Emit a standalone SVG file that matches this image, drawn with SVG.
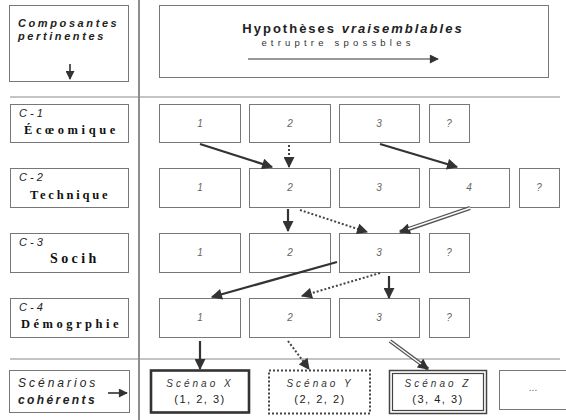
<svg xmlns="http://www.w3.org/2000/svg" width="566" height="420" viewBox="0 0 566 420">
<style>
.box{fill:#fff;stroke:#777;stroke-width:1}
.sep{stroke:#444;stroke-width:1.2}
.hsep{stroke:#888;stroke-width:1}
.num{font-family:"Liberation Sans",Arial,sans-serif;font-size:10px;font-style:italic;fill:#666;text-anchor:middle}
.cid{font-family:"Liberation Sans",Arial,sans-serif;font-size:11px;font-style:italic;fill:#222}
.cname{font-family:"Liberation Serif","Times New Roman",serif;font-size:12.5px;font-weight:bold;fill:#111;letter-spacing:2px}
.hdr{font-family:"Liberation Sans",Arial,sans-serif;font-size:11px;font-weight:bold;font-style:italic;fill:#222;letter-spacing:2.6px}
.sc{font-family:"Liberation Sans",Arial,sans-serif;font-size:10px;font-style:italic;fill:#333;text-anchor:middle;letter-spacing:3px}
.tup{font-family:"Liberation Sans",Arial,sans-serif;font-size:11px;fill:#222;text-anchor:middle;letter-spacing:1.5px}
.solid{stroke:#333;stroke-width:2.2;fill:none}
.dot{stroke:#444;stroke-width:2;stroke-dasharray:2,2;fill:none}
.dbl{stroke:#555;stroke-width:4;fill:none}
.dblin{stroke:#fff;stroke-width:1.4;fill:none}
</style>
<defs>
<marker id="ah" viewBox="0 0 10 10" refX="9" refY="5" markerUnits="userSpaceOnUse" markerWidth="12" markerHeight="11" orient="auto">
<path d="M0,0 L10,5 L0,10 z" fill="#333"/>
</marker>
<marker id="ahs" viewBox="0 0 10 10" refX="9" refY="5" markerUnits="userSpaceOnUse" markerWidth="10" markerHeight="9" orient="auto">
<path d="M0,0 L10,5 L0,10 z" fill="#333"/>
</marker>
</defs>

<g id="frame">
<line class="sep" x1="139" y1="0" x2="139" y2="420"/>
<line class="hsep" x1="10" y1="97" x2="560" y2="97"/>
<line class="hsep" x1="10" y1="359" x2="560" y2="359"/>
</g>

<g id="composantes">
<rect class="box" x="9.5" y="5.5" width="119" height="76"/>
<text class="hdr" x="18" y="27">Composantes</text>
<text class="hdr" x="18" y="40">pertinentes</text>
<line x1="70" y1="64" x2="70" y2="79" stroke="#222" stroke-width="1.5" marker-end="url(#ahs)"/>
</g>

<g id="hypotheses">
<rect class="box" x="159.5" y="5.5" width="389" height="72"/>
<text x="353" y="33" font-family="Liberation Sans, Arial, sans-serif" font-size="13px" font-weight="bold" fill="#222" text-anchor="middle" letter-spacing="2px">Hypothèses <tspan font-style="italic">vraisemblables</tspan></text>
<text x="338" y="46" font-family="Liberation Sans, Arial, sans-serif" font-size="9.5px" fill="#333" text-anchor="middle" letter-spacing="4.2px">etruptre spossbles</text>
<line x1="248" y1="59" x2="438" y2="59" stroke="#333" stroke-width="1.2" marker-end="url(#ahs)"/>
</g>

<g id="c1">
<rect class="box" x="10.5" y="104.5" width="118" height="38"/>
<text class="cid" x="19" y="117">C - 1</text>
<text class="cname" x="24" y="134" style="letter-spacing:3.6px">Écœomique</text>
</g>
<g id="c2">
<rect class="box" x="10.5" y="168.5" width="118" height="39"/>
<text class="cid" x="19" y="181">C - 2</text>
<text class="cname" x="30" y="199" style="letter-spacing:2.8px">Technique</text>
</g>
<g id="c3">
<rect class="box" x="10.5" y="233.5" width="118" height="39"/>
<text class="cid" x="19" y="246">C - 3</text>
<text class="cname" x="50" y="263" style="font-size:14px;letter-spacing:3.4px">Socih</text>
</g>
<g id="c4">
<rect class="box" x="10.5" y="298.5" width="118" height="39"/>
<text class="cid" x="19" y="311">C - 4</text>
<text class="cname" x="21" y="328" style="letter-spacing:3.5px">Démogrphie</text>
</g>
<g id="scenarios-label">
<rect class="box" x="9.5" y="370.5" width="120" height="42"/>
<text x="18" y="387" font-family="Liberation Sans, Arial, sans-serif" font-size="12px" font-style="italic" fill="#222" letter-spacing="3px">Scénarios</text>
<text x="18" y="404" font-family="Liberation Sans, Arial, sans-serif" font-size="12px" font-style="italic" font-weight="bold" fill="#222" letter-spacing="2.4px">cohérents</text>
<line x1="108" y1="393" x2="127" y2="393" stroke="#222" stroke-width="1.5" marker-end="url(#ahs)"/>
</g>

<g id="r1">
<g id="r1c1"><rect class="box" x="159.5" y="104.5" width="81" height="38"/><text class="num" x="200" y="127">1</text></g>
<g id="r1c2"><rect class="box" x="249.5" y="104.5" width="81" height="38"/><text class="num" x="290" y="127">2</text></g>
<g id="r1c3"><rect class="box" x="339.5" y="104.5" width="80" height="38"/><text class="num" x="379" y="127">3</text></g>
<g id="r1c4"><rect class="box" x="429.5" y="104.5" width="40" height="38"/><text class="num" x="449" y="127">?</text></g>
</g>
<g id="r2">
<g id="r2c1"><rect class="box" x="159.5" y="168.5" width="81" height="39"/><text class="num" x="200" y="191">1</text></g>
<g id="r2c2"><rect class="box" x="249.5" y="168.5" width="81" height="39"/><text class="num" x="290" y="191">2</text></g>
<g id="r2c3"><rect class="box" x="339.5" y="168.5" width="80" height="39"/><text class="num" x="379" y="191">3</text></g>
<g id="r2c4"><rect class="box" x="429.5" y="168.5" width="80" height="39"/><text class="num" x="469" y="191">4</text></g>
<g id="r2c5"><rect class="box" x="519.5" y="168.5" width="40" height="39"/><text class="num" x="539" y="191">?</text></g>
</g>
<g id="r3">
<g id="r3c1"><rect class="box" x="159.5" y="233.5" width="81" height="39"/><text class="num" x="200" y="256">1</text></g>
<g id="r3c2"><rect class="box" x="249.5" y="233.5" width="81" height="39"/><text class="num" x="290" y="256">2</text></g>
<g id="r3c3"><rect class="box" x="339.5" y="233.5" width="80" height="39"/><text class="num" x="379" y="256">3</text></g>
<g id="r3c4"><rect class="box" x="429.5" y="233.5" width="40" height="39"/><text class="num" x="449" y="256">?</text></g>
</g>
<g id="r4">
<g id="r4c1"><rect class="box" x="159.5" y="298.5" width="81" height="39"/><text class="num" x="200" y="321">1</text></g>
<g id="r4c2"><rect class="box" x="249.5" y="298.5" width="81" height="39"/><text class="num" x="290" y="321">2</text></g>
<g id="r4c3"><rect class="box" x="339.5" y="298.5" width="80" height="39"/><text class="num" x="379" y="321">3</text></g>
<g id="r4c4"><rect class="box" x="429.5" y="298.5" width="40" height="39"/><text class="num" x="449" y="321">?</text></g>
</g>

<g id="scenX">
<rect x="151" y="370.5" width="98" height="42" fill="#fff" stroke="#333" stroke-width="2.6"/>
<text class="sc" x="200" y="387">Scénao X</text>
<text class="tup" x="200" y="403">(1, 2, 3)</text>
</g>
<g id="scenY">
<rect x="269" y="370.5" width="101" height="43" fill="#fff" stroke="#444" stroke-width="2" stroke-dasharray="2,2"/>
<text class="sc" x="320" y="387">Scénao Y</text>
<text class="tup" x="320" y="403">(2, 2, 2)</text>
</g>
<g id="scenZ">
<rect x="389.5" y="370.5" width="97" height="43" fill="#fff" stroke="#444" stroke-width="1.5"/>
<rect x="392.5" y="373.5" width="91" height="37" fill="none" stroke="#444" stroke-width="1.2"/>
<text class="sc" x="438" y="387">Scénao  Z</text>
<text class="tup" x="438" y="403">(3, 4, 3)</text>
</g>
<g id="scenMore">
<rect class="box" x="499.5" y="370.5" width="70" height="39" stroke="#444"/>
<text class="num" x="533" y="391" style="font-style:normal">...</text>
</g>

<g id="connectors">
<line class="solid" x1="200" y1="144" x2="272" y2="167" marker-end="url(#ah)"/>
<line class="dot" x1="289" y1="145" x2="289" y2="167" marker-end="url(#ah)"/>
<line class="solid" x1="380" y1="144" x2="457" y2="167" stroke-width="2.8" marker-end="url(#ah)"/>
<line class="solid" x1="288" y1="209" x2="288" y2="231" marker-end="url(#ah)"/>
<line class="dot" x1="300" y1="210" x2="367" y2="232" marker-end="url(#ah)"/>
<line class="dbl" x1="470" y1="208" x2="400" y2="232" marker-end="url(#ah)"/>
<line class="dblin" x1="470" y1="208" x2="408" y2="229"/>
<line class="solid" x1="337" y1="262" x2="212" y2="297" marker-end="url(#ah)"/>
<line class="dot" x1="380" y1="273" x2="302" y2="296" marker-end="url(#ah)"/>
<line class="solid" x1="389" y1="276" x2="389" y2="298" stroke-width="3" marker-end="url(#ah)"/>
<line class="solid" x1="200" y1="341" x2="200" y2="369" marker-end="url(#ah)"/>
<line class="dot" x1="288" y1="341" x2="309" y2="369" marker-end="url(#ah)"/>
<line class="dbl" x1="390" y1="341" x2="428" y2="369" marker-end="url(#ah)"/>
<line class="dblin" x1="390" y1="341" x2="421" y2="364"/>
</g>
</svg>
